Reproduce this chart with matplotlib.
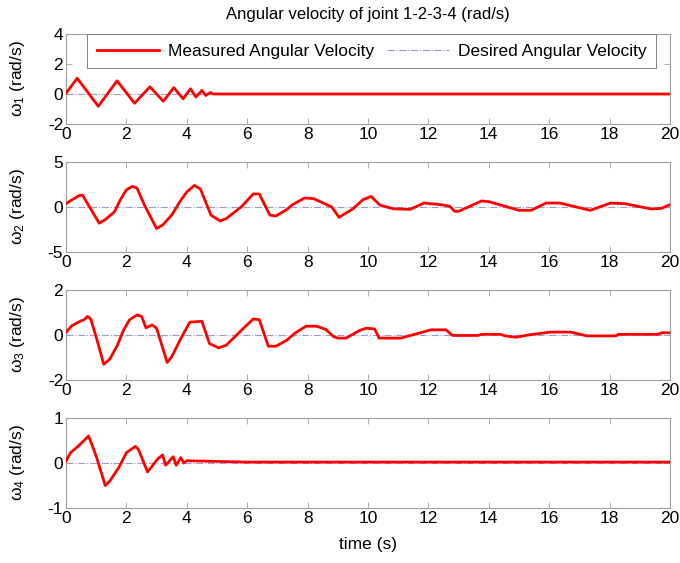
import matplotlib
matplotlib.use("Agg")
import matplotlib.pyplot as plt
import numpy as np

plt.rcParams['font.family'] = ['Liberation Sans', 'DejaVu Sans']
plt.rcParams['mathtext.fontset'] = 'custom'
plt.rcParams['mathtext.rm'] = 'Liberation Sans'
plt.rcParams['mathtext.it'] = 'Liberation Sans'
plt.rcParams['axes.unicode_minus'] = False

# ---- data ----
t1 = [0, 0.37, 1.07, 1.69, 2.27, 2.78, 3.22, 3.57, 3.88, 4.12, 4.30, 4.50, 4.63, 4.78, 4.88, 20]
w1 = [0.05, 1.05, -0.82, 0.88, -0.62, 0.48, -0.48, 0.42, -0.32, 0.35, -0.2, 0.24, -0.1, 0.1, 0.0, 0.0]

t2 = [0, 0.2, 0.45, 0.55, 1.1, 1.3, 1.6, 1.8, 2.0, 2.2, 2.35, 2.6, 3.0, 3.2, 3.5, 3.8, 4.0,
      4.25, 4.45, 4.8, 5.1, 5.3, 5.8, 6.2, 6.4, 6.75, 6.95, 7.3, 7.5, 7.9, 8.2, 8.8, 9.04,
      9.5, 9.83, 10.1, 10.4, 10.84, 11.4, 11.85, 12.4, 12.7, 12.87, 13.0, 13.76, 14.0, 15.0,
      15.4, 15.9, 16.35, 17.36, 18.03, 18.5, 19.38, 19.72, 20]
w2 = [0.37, 0.8, 1.3, 1.3, -1.8, -1.4, -0.55, 0.8, 1.9, 2.3, 2.1, 0.2, -2.4, -2.0, -0.9, 0.74, 1.67,
      2.4, 2.0, -0.9, -1.55, -1.3, 0.0, 1.45, 1.45, -0.9, -1.0, -0.3, 0.26, 1.0, 0.93, 0.0, -1.15,
      -0.2, 0.8, 1.18, 0.2, -0.2, -0.26, 0.44, 0.26, 0.1, -0.48, -0.48, 0.67, 0.6, -0.37,
      -0.37, 0.44, 0.44, -0.37, 0.44, 0.37, -0.22, -0.15, 0.26]

t3 = [0, 0.2, 0.45, 0.6, 0.72, 0.82, 1.0, 1.25, 1.45, 1.7, 1.9, 2.1, 2.35, 2.5, 2.65, 2.85, 3.0,
      3.35, 3.5, 3.8, 4.1, 4.5, 4.75, 5.05, 5.3, 5.8, 6.2, 6.4, 6.7, 6.95, 7.3, 7.6, 7.95, 8.3,
      8.6, 8.85, 9.0, 9.27, 9.72, 9.94, 10.22, 10.37, 11.07, 11.63, 12.08, 12.58, 12.8, 13.64,
      13.76, 14.38, 14.55, 14.9, 15.35, 16.03, 16.7, 17.25, 18.2, 18.3, 19.6, 19.72, 20]
w3 = [0.12, 0.42, 0.6, 0.68, 0.83, 0.71, -0.09, -1.3, -1.07, -0.46, 0.2, 0.67, 0.89, 0.83, 0.32, 0.45, 0.3,
      -1.22, -0.97, -0.16, 0.57, 0.61, -0.38, -0.57, -0.46, 0.2, 0.71, 0.68, -0.5, -0.5, -0.24, 0.1, 0.39, 0.39,
      0.25, -0.06, -0.14, -0.14, 0.2, 0.3, 0.27, -0.14, -0.14, 0.06, 0.23, 0.23, -0.02, -0.02,
      0.03, 0.03, -0.04, -0.1, 0.01, 0.13, 0.13, -0.04, -0.04, 0.03, 0.03, 0.1, 0.1]

t4 = [0, 0.15, 0.4, 0.75, 1.0, 1.3, 1.45, 1.75, 2.0, 2.3, 2.4, 2.7, 2.85, 3.05, 3.2, 3.3, 3.55,
      3.65, 3.8, 3.9, 4.0, 6.0, 8.0, 10.0, 12.0, 14.0, 16.0, 18.0, 20]
w4 = [0.04, 0.23, 0.37, 0.6, 0.15, -0.5, -0.4, -0.1, 0.23, 0.37, 0.3, -0.2, -0.07, 0.1, 0.18, -0.05, 0.14,
      -0.05, 0.12, 0.0, 0.05, 0.02, 0.02, 0.02, 0.02, 0.02, 0.02, 0.02, 0.02]

series = [(t1, w1), (t2, w2), (t3, w3), (t4, w4)]
ylims = [(-2, 4), (-5, 5), (-2, 2), (-1, 1)]
yticks = [[-2, 0, 2, 4], [-5, 0, 5], [-2, 0, 2], [-1, 0, 1]]
ylabels = [r'$\omega_1$ (rad/s)', r'$\omega_2$ (rad/s)', r'$\omega_3$ (rad/s)', r'$\omega_4$ (rad/s)']
xticks = list(range(0, 21, 2))

fig = plt.figure(figsize=(6.8, 5.63), dpi=100)
W, H = 680, 563
tops = [34, 162, 290, 418]
hgt = 90
left, right = 66, 670

red = '#FF0000'
des = '#9C9CD0'
axes = []
for i, (tt, ww) in enumerate(series):
    top = tops[i]
    ax = fig.add_axes([left / W, (H - top - hgt) / H, (right - left) / W, hgt / H])
    axes.append(ax)
    l1, = ax.plot(tt, ww, color=red, lw=2.0, label='Measured Angular Velocity', zorder=3)
    l2, = ax.plot([0, 20], [0, 0], color=des, lw=0.8, ls='-.', label='Desired Angular Velocity', zorder=2)
    ax.set_xlim(0, 20)
    ax.set_ylim(*ylims[i])
    ax.set_yticks(yticks[i])
    ax.set_xticks(xticks)
    ax.tick_params(direction='in', top=True, right=True, length=4, width=0.6,
                   color='#A0A0A0', labelsize=12.5, pad=2)
    for s in ax.spines.values():
        s.set_color('#A0A0A0')
        s.set_linewidth(0.8)
    ax.set_ylabel(ylabels[i], fontsize=12.5, labelpad=6)
    ax.yaxis.set_label_coords(-0.065, 0.5)
    if i == 0:
        leg = ax.legend(handles=[l1, l2], ncol=2, loc='upper left',
                        bbox_to_anchor=(0.035, 1.0, 0.942, 0.0), mode='expand',
                        borderaxespad=0, fancybox=False, framealpha=1,
                        edgecolor='#808080', fontsize=12.5, handlelength=3.6,
                        handletextpad=0.5, columnspacing=1.5, borderpad=0.55)
        leg.get_frame().set_linewidth(0.7)

fig.text(368 / W, 1 - 15 / H, 'Angular velocity of joint 1-2-3-4 (rad/s)',
         ha='center', va='center', fontsize=12)
fig.text(368 / W, 1 - 545 / H, 'time (s)', ha='center', va='center', fontsize=12.5)

fig.savefig('out.png', dpi=100)
